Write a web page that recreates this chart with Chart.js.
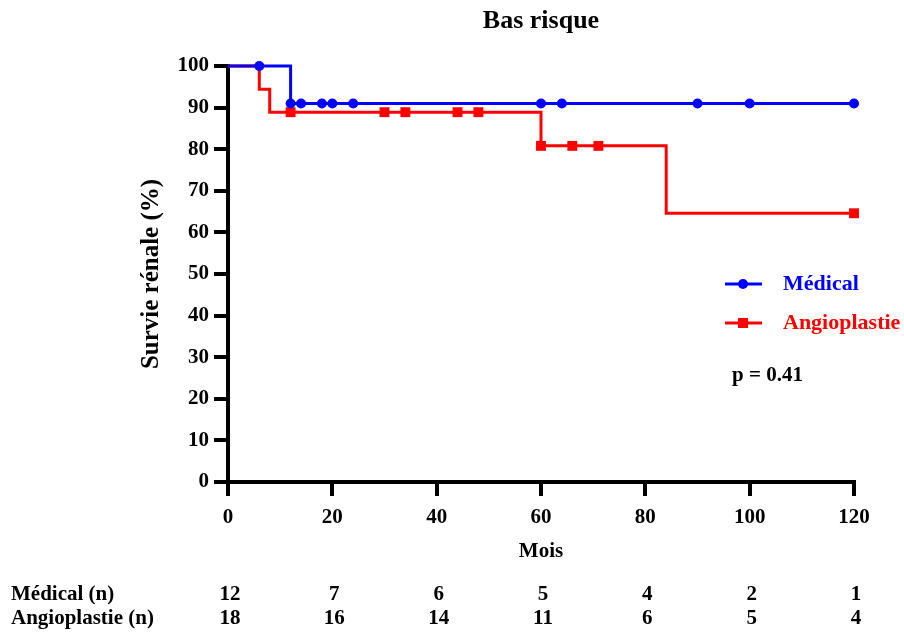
<!DOCTYPE html>
<html>
<head>
<meta charset="utf-8">
<script src="https://cdn.jsdelivr.net/npm/chart.js@4"></script>
<style>
  body { margin: 0; background: #fff; }
  #wrap { width: 904px; height: 632px; }
</style>
</head>
<body>
<div id="wrap"><canvas id="myChart"></canvas></div>
<script>
// step curves (time in months, survival %)
const medicalX = [0, 12, 120];
const medicalY = [100, 91, 91];
const angioX = [0, 6, 8, 60, 84, 120];
const angioY = [100, 94.4, 88.9, 80.8, 64.6, 64.6];
// censored points
const medicalCensorX = [6, 12, 14, 18, 20, 24, 60, 64, 90, 100, 120];
const medicalCensorY = [100, 91, 91, 91, 91, 91, 91, 91, 91, 91, 91];
const angioCensorX = [12, 30, 34, 44, 48, 60, 66, 71, 120];
const angioCensorY = [88.9, 88.9, 88.9, 88.9, 88.9, 80.8, 80.8, 80.8, 64.6];
// number at risk
const riskTimes = [0, 20, 40, 60, 80, 100, 120];
const medicalAtRisk = [12, 7, 6, 5, 4, 2, 1];
const angioAtRisk = [18, 16, 14, 11, 6, 5, 4];

const BLUE = '#0000ff';
const RED = '#ff0000';
const SERIF = '"Liberation Serif", "Times New Roman", serif';

const pts = (xs, ys) => xs.map((x, i) => ({ x: x, y: ys[i] }));

const extras = {
  id: 'extras',
  afterDraw(chart) {
    const ctx = chart.ctx;
    const a = chart.chartArea;
    const xs = chart.scales.x;
    const cx = (a.left + a.right) / 2;
    ctx.save();
    ctx.fillStyle = '#000';
    ctx.textBaseline = 'middle';
    ctx.textAlign = 'center';
    ctx.font = 'bold 26px ' + SERIF;
    ctx.fillText('Bas risque', cx, 21);
    ctx.font = 'bold 21px ' + SERIF;
    ctx.fillText('Mois', cx, 552);

    ctx.save();
    ctx.translate(152, (a.top + a.bottom) / 2);
    ctx.rotate(-Math.PI / 2);
    ctx.font = 'bold 25px ' + SERIF;
    ctx.fillText('Survie rénale (%)', 0, 0);
    ctx.restore();

    // legend
    const legend = [
      { label: 'Médical', color: BLUE, y: 284, shape: 'circle' },
      { label: 'Angioplastie', color: RED, y: 323, shape: 'square' }
    ];
    legend.forEach(l => {
      ctx.strokeStyle = l.color;
      ctx.fillStyle = l.color;
      ctx.lineWidth = 3;
      ctx.beginPath();
      ctx.moveTo(725, l.y);
      ctx.lineTo(762, l.y);
      ctx.stroke();
      if (l.shape === 'circle') {
        ctx.beginPath();
        ctx.arc(743, l.y, 5, 0, Math.PI * 2);
        ctx.fill();
      } else {
        ctx.fillRect(738, l.y - 5, 10, 10);
      }
      ctx.font = 'bold 22px ' + SERIF;
      ctx.textAlign = 'left';
      ctx.fillText(l.label, 783, l.y);
    });
    ctx.fillStyle = '#000';
    ctx.font = 'bold 21px ' + SERIF;
    ctx.fillText('p = 0.41', 732, 376);

    // at-risk table
    ctx.font = 'bold 21px ' + SERIF;
    ctx.fillText('Médical (n)', 11, 595);
    ctx.fillText('Angioplastie (n)', 11, 619);
    ctx.textAlign = 'center';
    riskTimes.forEach((t, i) => {
      const px = xs.getPixelForValue(t) + 2;
      ctx.fillText(String(medicalAtRisk[i]), px, 595);
      ctx.fillText(String(angioAtRisk[i]), px, 619);
    });
    ctx.restore();
  }
};

const ctx = document.getElementById('myChart').getContext('2d');
const myChart = new Chart(ctx, {
  type: 'line',
  data: {
    datasets: [
      {
        label: 'Médical',
        data: pts(medicalX, medicalY),
        borderColor: BLUE,
        borderWidth: 3,
        stepped: 'before',
        pointRadius: 0,
        clip: false
      },
      {
        label: 'Médical censure',
        data: pts(medicalCensorX, medicalCensorY),
        showLine: false,
        pointStyle: 'circle',
        pointRadius: 5,
        pointBackgroundColor: BLUE,
        pointBorderColor: BLUE,
        pointBorderWidth: 0,
        clip: false
      },
      {
        label: 'Angioplastie',
        data: pts(angioX, angioY),
        borderColor: RED,
        borderWidth: 3,
        stepped: 'before',
        pointRadius: 0,
        clip: false
      },
      {
        label: 'Angioplastie censure',
        data: pts(angioCensorX, angioCensorY),
        showLine: false,
        pointStyle: 'rect',
        pointRadius: 7,
        pointBackgroundColor: RED,
        pointBorderColor: RED,
        pointBorderWidth: 0,
        clip: false
      }
    ]
  },
  options: {
    responsive: true,
    maintainAspectRatio: false,
    animation: false,
    layout: { padding: { left: 0, top: 66, right: 50, bottom: 0 } },
    plugins: {
      legend: { display: false },
      tooltip: { enabled: false },
      title: { display: false }
    },
    scales: {
      x: {
        type: 'linear',
        min: 0,
        max: 120,
        afterFit: s => { s.height = 150; },
        border: { display: true, color: '#000', width: 4 },
        grid: { drawOnChartArea: false, drawTicks: true, tickLength: 14, color: '#000', lineWidth: 4 },
        ticks: { stepSize: 20, color: '#000', padding: 9, maxRotation: 0, font: { family: SERIF, size: 21, weight: 'bold' } }
      },
      y: {
        min: 0,
        max: 100,
        afterFit: s => { s.width = 228; },
        border: { display: true, color: '#000', width: 4 },
        grid: { drawOnChartArea: false, drawTicks: true, tickLength: 14, color: '#000', lineWidth: 4 },
        ticks: { stepSize: 10, color: '#000', padding: 5, font: { family: SERIF, size: 21, weight: 'bold' } }
      }
    }
  },
  plugins: [extras]
});
</script>
</body>
</html>
